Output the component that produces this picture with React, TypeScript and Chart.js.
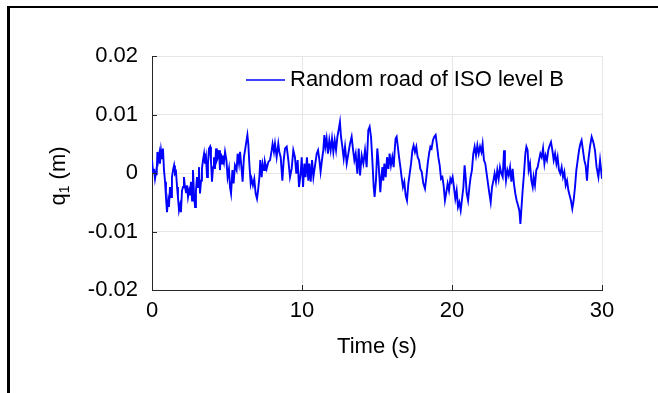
import React, { useEffect, useRef } from 'react';
import { Chart, registerables } from 'chart.js';

Chart.register(...registerables);

const FONT = '"Liberation Sans", Arial, Helvetica, sans-serif';
const LINE_COLOR = '#0000ff';
const AXIS_COLOR = '#262626';
const GRID_COLOR = '#e6e6e6';

const SERIES_LABEL = 'Random road of ISO level B';
const X_TITLE = 'Time (s)';
const Y_TITLE_MAIN = 'q';
const Y_TITLE_SUB = '1';
const Y_TITLE_UNIT = ' (m)';

const xTicks = [0, 10, 20, 30];
const yTicks = [-0.02, -0.01, 0, 0.01, 0.02];
const yTickLabels = ['-0.02', '-0.01', '0', '0.01', '0.02'];

// time (s)
const timeS = [
  0, 0.07, 0.13, 0.2, 0.27, 0.31, 0.36, 0.42, 0.49, 0.53, 0.6, 0.67, 0.73, 0.8, 0.87, 0.93,
  1.0, 1.07, 1.13, 1.2, 1.27, 1.33, 1.4, 1.47, 1.53, 1.6, 1.67, 1.73, 1.8, 1.87, 1.93,
  2.0, 2.07, 2.13, 2.2, 2.27, 2.33, 2.4, 2.47, 2.53, 2.6, 2.67, 2.73, 2.8, 2.87, 2.93,
  3.0, 3.07, 3.13, 3.2, 3.27, 3.33, 3.4, 3.47, 3.53, 3.6, 3.67, 3.73, 3.8, 3.87, 3.93,
  4.0, 4.07, 4.13, 4.2, 4.27, 4.33, 4.4, 4.47, 4.53, 4.6, 4.67, 4.73, 4.8, 4.87, 4.96,
  5.04, 5.13, 5.2, 5.27, 5.36, 5.44, 5.53, 5.64, 5.71, 5.8, 5.87, 5.98,
  6.04, 6.13, 6.24, 6.36, 6.42, 6.49, 6.58, 6.64, 6.73, 6.82, 6.91,
  7.0, 7.07, 7.16, 7.22, 7.31, 7.38, 7.47, 7.53, 7.64, 7.76, 7.87, 7.98,
  8.04, 8.13, 8.2, 8.31, 8.42, 8.49, 8.58, 8.69, 8.78, 8.87, 8.98,
  9.09, 9.2, 9.31, 9.42, 9.53, 9.62, 9.71, 9.8, 9.91, 9.98,
  10.07, 10.16, 10.24, 10.33, 10.42, 10.49, 10.58, 10.67, 10.76, 10.87, 10.98,
  11.07, 11.16, 11.24, 11.33, 11.42, 11.49, 11.56, 11.64, 11.73, 11.82, 11.91,
  12.0, 12.09, 12.18, 12.27, 12.36, 12.44, 12.53, 12.6, 12.69, 12.78, 12.87, 12.98,
  13.09, 13.2, 13.31, 13.38, 13.49, 13.58, 13.69, 13.78, 13.87, 13.98,
  14.09, 14.2, 14.31, 14.42, 14.51, 14.6, 14.69, 14.78, 14.84, 14.93,
  15.02, 15.09, 15.16, 15.22, 15.29, 15.36, 15.42, 15.49, 15.58, 15.67, 15.76, 15.84, 15.93,
  16.02, 16.11, 16.18, 16.24, 16.31, 16.38, 16.47, 16.56, 16.64, 16.73, 16.82, 16.91,
  17.0, 17.09, 17.18, 17.27, 17.36, 17.44, 17.53, 17.62, 17.71, 17.8, 17.89, 17.98,
  18.09, 18.2, 18.29, 18.38, 18.47, 18.56, 18.64, 18.73, 18.82, 18.91,
  19.0, 19.09, 19.18, 19.27, 19.36, 19.44, 19.53, 19.62, 19.71, 19.8, 19.89, 19.96,
  20.04, 20.13, 20.22, 20.31, 20.4, 20.49, 20.58, 20.67, 20.76, 20.84, 20.91, 20.98,
  21.07, 21.16, 21.24, 21.33, 21.42, 21.51, 21.6, 21.69, 21.78, 21.87, 21.96,
  22.04, 22.13, 22.22, 22.31, 22.4, 22.49, 22.58, 22.67, 22.76, 22.84, 22.93,
  23.02, 23.11, 23.2, 23.29, 23.38, 23.47, 23.53, 23.6, 23.69, 23.78, 23.87, 23.96,
  24.04, 24.13, 24.22, 24.31, 24.4, 24.49, 24.56, 24.62, 24.71, 24.8, 24.89, 24.96,
  25.04, 25.11, 25.2, 25.29, 25.38, 25.44, 25.53, 25.62, 25.71, 25.8, 25.89, 25.98,
  26.07, 26.16, 26.24, 26.33, 26.42, 26.51, 26.6, 26.69, 26.78, 26.87, 26.96,
  27.04, 27.13, 27.22, 27.31, 27.4, 27.49, 27.58, 27.67, 27.76, 27.84, 27.93,
  28.02, 28.11, 28.2, 28.29, 28.38, 28.47, 28.56, 28.64, 28.73, 28.82, 28.91,
  29.0, 29.09, 29.2, 29.31, 29.42, 29.53, 29.64, 29.76, 29.87, 30.0,
];

// road displacement q1 (m)
const q1 = [
  0.0022, 0.0002, 0.0007, -0.0010, 0.0002, -0.0004, 0.0036, 0.0022, 0.0033, 0.0016, 0.0039, 0.0025, 0.0042, 0.0005, -0.0015, -0.0041,
  -0.0067, -0.0047, -0.0058, -0.0024, -0.0041, -0.0007, 0.0005, 0.0013, -0.0001, 0.0002, -0.0024, -0.0041, -0.0064, -0.0055, -0.0067,
  -0.0030, -0.0024, -0.0007, -0.0024, -0.0033, -0.0021, -0.0041, -0.0030, -0.0038, -0.0015, -0.0047, 0.0005, -0.0035, -0.0058, -0.0030,
  -0.0007, -0.0024, 0.0010, -0.0035, -0.0013, 0.0007, 0.0022, 0.0033, 0.0016, 0.0027, -0.0007, 0.0016, 0.0042, 0.0045, 0.0022,
  -0.0015, 0.0010, 0.0027, 0.0007, 0.0042, 0.0022, 0.0027, 0.0039, 0.0005, 0.0033, 0.0016, 0.0030, 0.0019, 0.0036, 0.0022,
  -0.0007, 0.0007, -0.0024, -0.0035, 0.0005, -0.0018, 0.0013, 0.0005, 0.0033, 0.0016, 0.0036, 0.0005,
  -0.0015, 0.0027, 0.0045, 0.0065, 0.0050, 0.0016, -0.0018, -0.0010, -0.0021, -0.0010, -0.0035,
  -0.0044, -0.0030, -0.0007, 0.0022, -0.0007, 0.0016, 0.0005, 0.0019, 0.0007, 0.0019, 0.0022, 0.0039,
  0.0050, 0.0036, 0.0050, 0.0027, 0.0050, 0.0036, 0.0027, -0.0013, 0.0022, 0.0042, 0.0045,
  0.0022, -0.0007, 0.0007, 0.0039, 0.0027, -0.0001, 0.0022, -0.0024, -0.0001, 0.0027,
  -0.0024, 0.0016, -0.0007, 0.0027, -0.0013, 0.0016, -0.0015, 0.0022, -0.0007, 0.0013, 0.0033,
  0.0039, 0.0022, 0.0002, 0.0022, 0.0039, 0.0065, 0.0045, 0.0059, 0.0033, 0.0056, 0.0039,
  0.0059, 0.0036, 0.0056, 0.0039, 0.0062, 0.0073, 0.0087, 0.0062, 0.0045, 0.0025, 0.0045, 0.0016,
  0.0033, 0.0050, 0.0062, 0.0045, 0.0022, 0.0033, -0.0001, 0.0042, -0.0004, 0.0030,
  0.0016, 0.0039, 0.0010, 0.0073, 0.0079, 0.0062, 0.0022, -0.0024, -0.0041, -0.0013,
  0.0042, 0.0022, -0.0007, -0.0033, -0.0007, 0.0010, -0.0013, 0.0016, -0.0007, 0.0027, 0.0007, 0.0033, 0.0013,
  0.0027, 0.0010, 0.0039, 0.0059, 0.0062, 0.0047, 0.0027, 0.0010, -0.0007, -0.0024, -0.0015, -0.0038,
  -0.0047, -0.0018, -0.0001, 0.0016, 0.0039, 0.0047, 0.0036, 0.0045, 0.0027, 0.0022, 0.0007, 0.0002,
  -0.0018, -0.0027, -0.0007, 0.0016, 0.0033, 0.0045, 0.0042, 0.0056, 0.0062, 0.0065,
  0.0047, 0.0027, 0.0013, -0.0010, -0.0007, -0.0021, -0.0047, -0.0033, -0.0018, -0.0030, -0.0010, -0.0015,
  -0.0007, -0.0024, -0.0044, -0.0030, -0.0058, -0.0050, -0.0064, -0.0044, -0.0024, 0.0013, -0.0007, -0.0035,
  -0.0047, -0.0024, -0.0007, 0.0005, 0.0033, 0.0045, 0.0030, 0.0047, 0.0033, 0.0045, 0.0036,
  0.0050, 0.0022, 0.0016, -0.0001, -0.0018, -0.0035, -0.0050, -0.0024, -0.0013, -0.0001, -0.0015,
  0.0005, -0.0010, 0.0010, -0.0001, -0.0007, 0.0039, 0.0010, -0.0013, 0.0005, -0.0004, 0.0010, -0.0015,
  0.0007, -0.0018, -0.0035, -0.0047, -0.0055, -0.0064, -0.0087, -0.0064, -0.0030, -0.0001, 0.0033, 0.0045,
  0.0039, 0.0005, 0.0016, -0.0013, -0.0024, -0.0007, -0.0021, 0.0005, 0.0010, 0.0022, 0.0033, 0.0027,
  0.0042, 0.0016, 0.0030, 0.0022, 0.0039, 0.0047, 0.0053, 0.0039, 0.0022, 0.0033, 0.0016,
  0.0027, 0.0005, -0.0001, 0.0010, -0.0007, 0.0002, -0.0021, -0.0013, -0.0030, -0.0038, -0.0047,
  -0.0061, -0.0047, -0.0024, 0.0005, 0.0022, 0.0039, 0.0050, 0.0056, 0.0039, 0.0022, 0.0013,
  -0.0013, 0.0022, 0.0045, 0.0062, 0.0053, 0.0039, 0.0010, -0.0007, 0.0022, -0.0010,
];

const overlayPlugin = {
  id: 'overlayPlugin',
  afterDraw(chart: any) {
    const ctx = chart.ctx as CanvasRenderingContext2D;
    const { left, top, bottom } = chart.chartArea;
    const xs = chart.scales.x;
    const ys = chart.scales.y;
    ctx.save();

    // inward tick marks
    ctx.strokeStyle = AXIS_COLOR;
    ctx.lineWidth = 1;
    ys.ticks.forEach((t: any) => {
      const y = Math.round(ys.getPixelForValue(t.value)) + 0.5;
      ctx.beginPath();
      ctx.moveTo(left, y);
      ctx.lineTo(left + 5, y);
      ctx.stroke();
    });
    xs.ticks.forEach((t: any) => {
      const x = Math.round(xs.getPixelForValue(t.value)) + 0.5;
      ctx.beginPath();
      ctx.moveTo(x, bottom);
      ctx.lineTo(x, bottom - 5);
      ctx.stroke();
    });

    // legend
    const ds = chart.data.datasets[0];
    const ly = top + 24;
    const lx = left + 94;
    ctx.strokeStyle = ds.borderColor;
    ctx.lineWidth = 1.6;
    ctx.beginPath();
    ctx.moveTo(lx, ly);
    ctx.lineTo(lx + 39, ly);
    ctx.stroke();
    ctx.fillStyle = '#000';
    ctx.font = `22px ${FONT}`;
    ctx.textAlign = 'left';
    ctx.textBaseline = 'middle';
    ctx.fillText(ds.label, lx + 44, ly);

    // x title
    ctx.textAlign = 'center';
    ctx.textBaseline = 'alphabetic';
    ctx.fillText(X_TITLE, (xs.left + xs.right) / 2, bottom + 63);

    // y title with subscript
    const cy = (ys.top + ys.bottom) / 2 + 3;
    ctx.translate(65, cy);
    ctx.rotate(-Math.PI / 2);
    ctx.font = `22px ${FONT}`;
    const wMain = ctx.measureText(Y_TITLE_MAIN).width;
    const wUnit = ctx.measureText(Y_TITLE_UNIT).width;
    ctx.font = `14px ${FONT}`;
    const wSub = ctx.measureText(Y_TITLE_SUB).width;
    const total = wMain + wSub + wUnit;
    let x0 = -total / 2;
    ctx.textAlign = 'left';
    ctx.font = `22px ${FONT}`;
    ctx.fillText(Y_TITLE_MAIN, x0, 0);
    x0 += wMain;
    ctx.font = `14px ${FONT}`;
    ctx.fillText(Y_TITLE_SUB, x0, 4);
    x0 += wSub;
    ctx.font = `22px ${FONT}`;
    ctx.fillText(Y_TITLE_UNIT, x0, 0);

    ctx.restore();
  },
};

export default function App() {
  const canvasRef = useRef<HTMLCanvasElement | null>(null);

  useEffect(() => {
    const canvas = canvasRef.current;
    if (!canvas) return;
    const points = timeS.map((t, i) => ({ x: t, y: q1[i] }));
    const chart = new Chart(canvas, {
      type: 'line',
      data: {
        datasets: [
          {
            label: SERIES_LABEL,
            data: points,
            borderColor: LINE_COLOR,
            backgroundColor: LINE_COLOR,
            borderWidth: 1.9,
            pointRadius: 0,
            tension: 0,
            fill: false,
          },
        ],
      },
      options: {
        animation: false,
        responsive: false,
        maintainAspectRatio: false,
        devicePixelRatio: 1,
        layout: { padding: { left: 0, top: 56, right: 56, bottom: 0 } },
        plugins: {
          legend: { display: false },
          tooltip: { enabled: false },
        },
        scales: {
          x: {
            type: 'linear',
            min: 0,
            max: 30,
            afterBuildTicks: (s: any) => {
              s.ticks = xTicks.map((v) => ({ value: v }));
            },
            afterFit: (s: any) => {
              s.height = 103;
            },
            ticks: {
              color: '#000',
              font: { family: FONT, size: 22 },
              padding: 8,
              maxRotation: 0,
              autoSkip: false,
              callback: (v: any) => String(v),
            },
            grid: { color: GRID_COLOR, drawTicks: false, lineWidth: 1 },
            border: { display: true, color: AXIS_COLOR, width: 1 },
          },
          y: {
            type: 'linear',
            min: -0.02,
            max: 0.02,
            afterBuildTicks: (s: any) => {
              s.ticks = yTicks.map((v) => ({ value: v }));
            },
            afterFit: (s: any) => {
              s.width = 152;
            },
            ticks: {
              color: '#000',
              font: { family: FONT, size: 22 },
              padding: 14,
              autoSkip: false,
              callback: (v: any) => {
                const i = yTicks.findIndex((t) => Math.abs(t - v) < 1e-9);
                return i >= 0 ? yTickLabels[i] : '';
              },
            },
            grid: { color: GRID_COLOR, drawTicks: false, lineWidth: 1 },
            border: { display: true, color: AXIS_COLOR, width: 1 },
          },
        },
      },
      plugins: [overlayPlugin],
    } as any);
    return () => chart.destroy();
  }, []);

  return (
    <div
      style={{
        position: 'fixed',
        left: 0,
        top: 0,
        width: 658,
        height: 393,
        background: '#fff',
        overflow: 'hidden',
      }}
    >
      <canvas
        ref={canvasRef}
        width={658}
        height={393}
        style={{ position: 'absolute', left: 0, top: 0, width: 658, height: 393 }}
      />
      <div
        style={{
          position: 'absolute',
          left: 7,
          top: 6,
          width: 660,
          height: 400,
          borderLeft: '3px solid #000',
          borderTop: '2px solid #000',
          boxSizing: 'border-box',
        }}
      />
    </div>
  );
}
